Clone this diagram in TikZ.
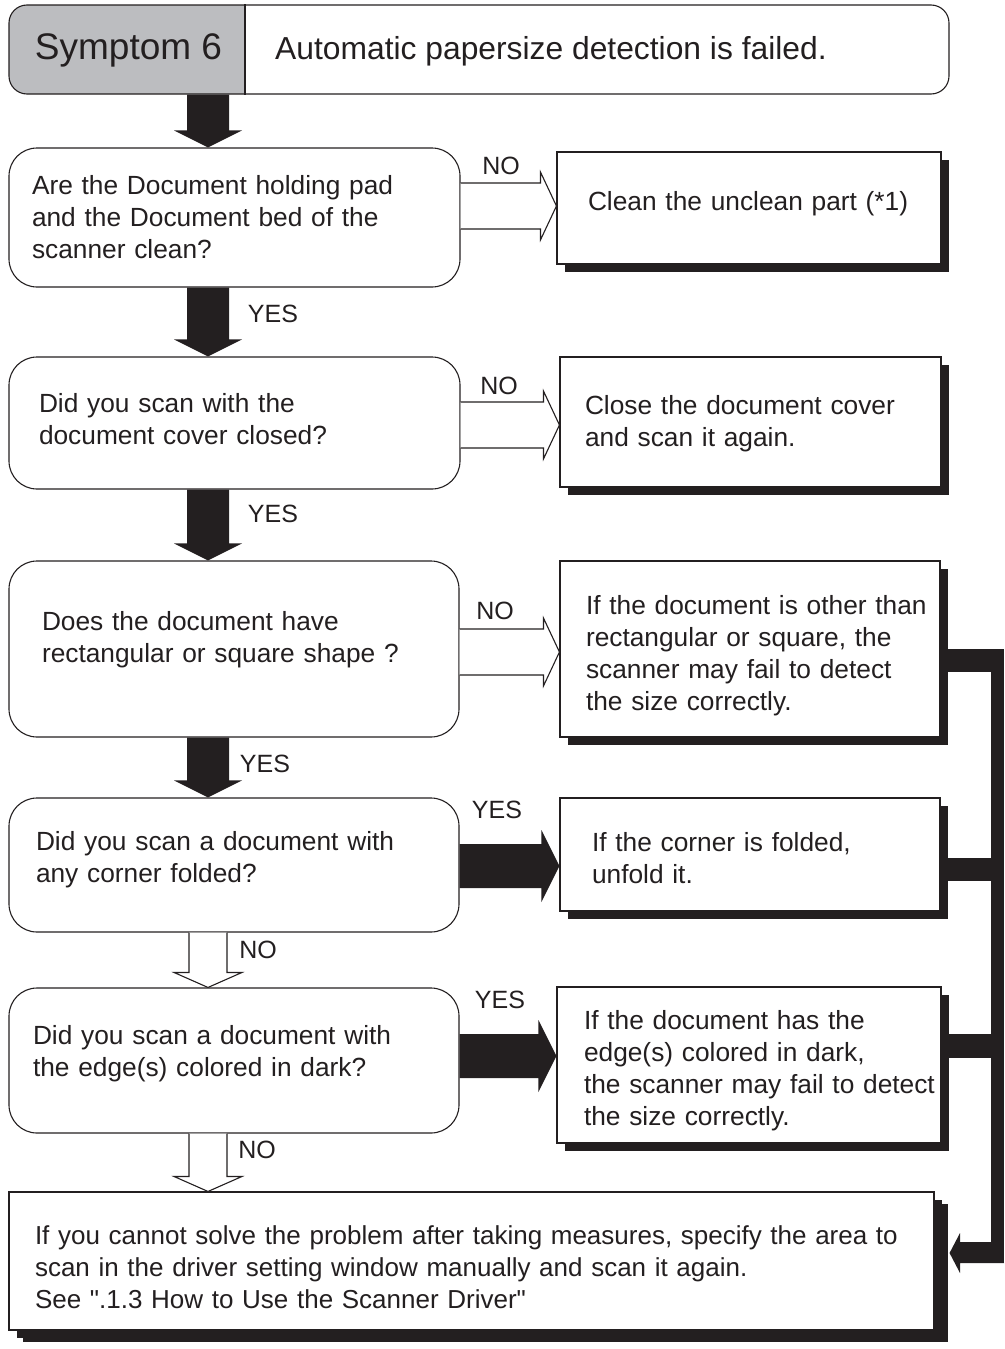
\documentclass[tikz,border=0pt]{standalone}
\usepackage{fontspec}
\setmainfont{Liberation Sans}[Ligatures=TeXOff]
\usetikzlibrary{calc,shadows}
\definecolor{ink}{HTML}{231F20}
\definecolor{symGray}{HTML}{BCBDC0}

% lines of a box, lifted by #1
\newcommand{\rows}[2][0pt]{\raisebox{#1}[\height][\depth]{\begin{tabular}{@{}l@{}}#2\end{tabular}}}

% fat black arrows (YES) and hollow arrows (NO)
\newcommand{\fatdown}[2]{\fill[ink] let \p1=(#1), \p2=(#2) in
  (\x1-21pt,\y1) -- (\x1+21pt,\y1) -- (\x1+21pt,\y2+17pt) -- (\x1+34pt,\y2+17pt)
  -- (\x1,\y2) -- (\x1-34pt,\y2+17pt) -- (\x1-21pt,\y2+17pt) -- cycle;}
\newcommand{\hollowdown}[2]{\filldraw[fill=white, draw=ink, line width=1.1pt] let \p1=(#1), \p2=(#2) in
  (\x1-19pt,\y1) -- (\x1-19pt,\y2+15pt) -- (\x1-34pt,\y2+15pt) -- (\x1,\y2)
  -- (\x1+34pt,\y2+15pt) -- (\x1+19pt,\y2+15pt) -- (\x1+19pt,\y1);}
\newcommand{\fatright}[3]{\fill[ink] let \p1=(#1.east), \p2=(#2.west), \p3=(0,#3) in
  (\x1,\y3+22pt) -- (\x2-18pt,\y3+22pt) -- (\x2-18pt,\y3+36pt) -- (\x2,\y3)
  -- (\x2-18pt,\y3-36pt) -- (\x2-18pt,\y3-22pt) -- (\x1,\y3-22pt) -- cycle;}
\newcommand{\hollowright}[3]{\filldraw[fill=white, draw=ink, line width=1.1pt] let \p1=(#1.east), \p2=(#2.west), \p3=(0,#3) in
  (\x1,\y3+23pt) -- (\x2-16pt,\y3+23pt) -- (\x2-16pt,\y3+34pt) -- (\x2,\y3)
  -- (\x2-16pt,\y3-34pt) -- (\x2-16pt,\y3-23pt) -- (\x1,\y3-23pt);}

\tikzset{
  ask/.style={draw=ink, line width=1.1pt, rounded corners=28pt, align=left, text=ink,
    font=\fontsize{26.3}{32}\selectfont},
  act/.style={draw=ink, line width=1.1pt, fill=white, align=left, text=ink,
    font=\fontsize{26.3}{32}\selectfont,
    drop shadow={shadow xshift=8pt, shadow yshift=-8pt, fill=ink, opacity=1}},
  tag/.style={text=ink, inner sep=0pt, font=\fontsize{25}{30}\selectfont}
}

\begin{document}
\begin{tikzpicture}[x=1pt, y=-1pt]
  \useasboundingbox (0,0) rectangle (1004,1349);

  % header
  \begin{scope}
    \clip (0,0) rectangle (245,100);
    \fill[symGray, rounded corners=18pt] (9,5) rectangle (949,94);
  \end{scope}
  \node[draw=ink, line width=1.1pt, rounded corners=18pt, minimum width=940pt, minimum height=89pt, inner sep=0pt] (head) at (479,49.5) {};
  \draw[ink, line width=1.1pt] (head.north -| 245,0) -- (head.south -| 245,0);
  \node[text=ink, font=\fontsize{37}{44}\selectfont] (sym) at (128.5,50) {Symptom 6};
  \node[text=ink, anchor=west, inner sep=0pt, font=\fontsize{31.8}{38}\selectfont] (title) at (275,51) {Automatic papersize detection is failed.};

  % questions
  \node[ask, minimum width=451pt, minimum height=139pt, text width=405pt, inner xsep=23pt] (q1) at (234.5,217.5)
    {\rows[-3pt]{Are the Document holding pad\\and the Document bed of the\\scanner clean?}};
  \node[ask, minimum width=451pt, minimum height=132pt, text width=391pt, inner xsep=30pt] (q2) at (234.5,423)
    {\rows[1pt]{Did you scan with the\\document cover closed?}};
  \node[ask, minimum width=450pt, minimum height=176pt, text width=384pt, inner xsep=33pt] (q3) at (234,649)
    {\rows[9pt]{Does the document have\\rectangular or square shape ?}};
  \node[ask, minimum width=450pt, minimum height=134pt, text width=396pt, inner xsep=27pt] (q4) at (234,865)
    {\rows[5pt]{Did you scan a document with\\any corner folded?}};
  \node[ask, minimum width=450pt, minimum height=145pt, text width=402pt, inner xsep=24pt] (q5) at (234,1060.5)
    {\rows[6pt]{Did you scan a document with\\the edge(s) colored in dark?}};

  % answers
  \node[act, minimum width=384pt, minimum height=112pt, text width=322pt, inner xsep=31pt] (a1) at (749,208)
    {\rows[4pt]{Clean the unclean part (*1)}};
  \node[act, minimum width=381pt, minimum height=130pt, text width=331pt, inner xsep=25pt] (a2) at (750.5,422)
    {\rows[-2pt]{Close the document cover\\and scan it again.}};
  \node[act, minimum width=380pt, minimum height=176pt, text width=328pt, inner xsep=26pt] (a3) at (750,649)
    {\rows[-7pt]{If the document is other than\\rectangular or square, the\\scanner may fail to detect\\the size correctly.}};
  \node[act, minimum width=380pt, minimum height=113pt, text width=316pt, inner xsep=32pt] (a4) at (750,854.5)
    {\rows[-7pt]{If the corner is folded,\\unfold it.}};
  \node[act, minimum width=384pt, minimum height=156pt, text width=330pt, inner xsep=27pt] (a5) at (749,1065)
    {\rows[-6pt]{If the document has the\\edge(s) colored in dark,\\the scanner may fail to detect\\the size correctly.}};
  \node[act, drop shadow={shadow xshift=14pt, shadow yshift=-12pt, fill=ink, opacity=1},
    font=\fontsize{26}{32}\selectfont,
    minimum width=925pt, minimum height=138pt, text width=873pt, inner xsep=26pt] (fin) at (471.5,1261)
    {\rows[-9pt]{If you cannot solve the problem after taking measures, specify the area to\\scan in the driver setting window manually and scan it again.\\See ".1.3 How to Use the Scanner Driver"}};

  % arrows down
  \coordinate (spine) at (208,0);
  \fatdown{spine |- head.south}{spine |- q1.north}
  \fatdown{spine |- q1.south}{spine |- q2.north}
  \fatdown{spine |- q2.south}{spine |- q3.north}
  \fatdown{spine |- q3.south}{spine |- q4.north}
  \hollowdown{spine |- q4.south}{spine |- q5.north}
  \hollowdown{spine |- q5.south}{spine |- fin.north}

  % arrows right
  \hollowright{q1}{a1}{206}
  \hollowright{q2}{a2}{425}
  \hollowright{q3}{a3}{652}
  \fatright{q4}{a4}{866}
  \fatright{q5}{a5}{1056}

  % labels
  \node[tag] (l1) at (501,166) {NO};
  \node[tag] (l2) at (273,314) {YES};
  \node[tag] (l3) at (499,386) {NO};
  \node[tag] (l4) at (273,514) {YES};
  \node[tag] (l5) at (495,611) {NO};
  \node[tag] (l6) at (265,764) {YES};
  \node[tag] (l7) at (497,810) {YES};
  \node[tag] (l8) at (258,950) {NO};
  \node[tag] (l9) at (500,1000) {YES};
  \node[tag] (l10) at (257,1150) {NO};

  % collecting bar on the right
  \fill[ink] (a3.east |- 0,649) rectangle (1004,672);
  \fill[ink] (a4.east |- 0,858) rectangle (1004,881);
  \fill[ink] (a5.east |- 0,1034) rectangle (1004,1058);
  \fill[ink] (991,649) rectangle (1004,1263);
  \fill[ink] let \p1=([xshift=15pt]fin.east), \p2=(0,1253) in
    (991,1242) -- (960,1242) -- (960,1233) -- (\x1,\y2) -- (960,1273) -- (960,1263) -- (1004,1263) -- cycle;
\end{tikzpicture}
\end{document}
